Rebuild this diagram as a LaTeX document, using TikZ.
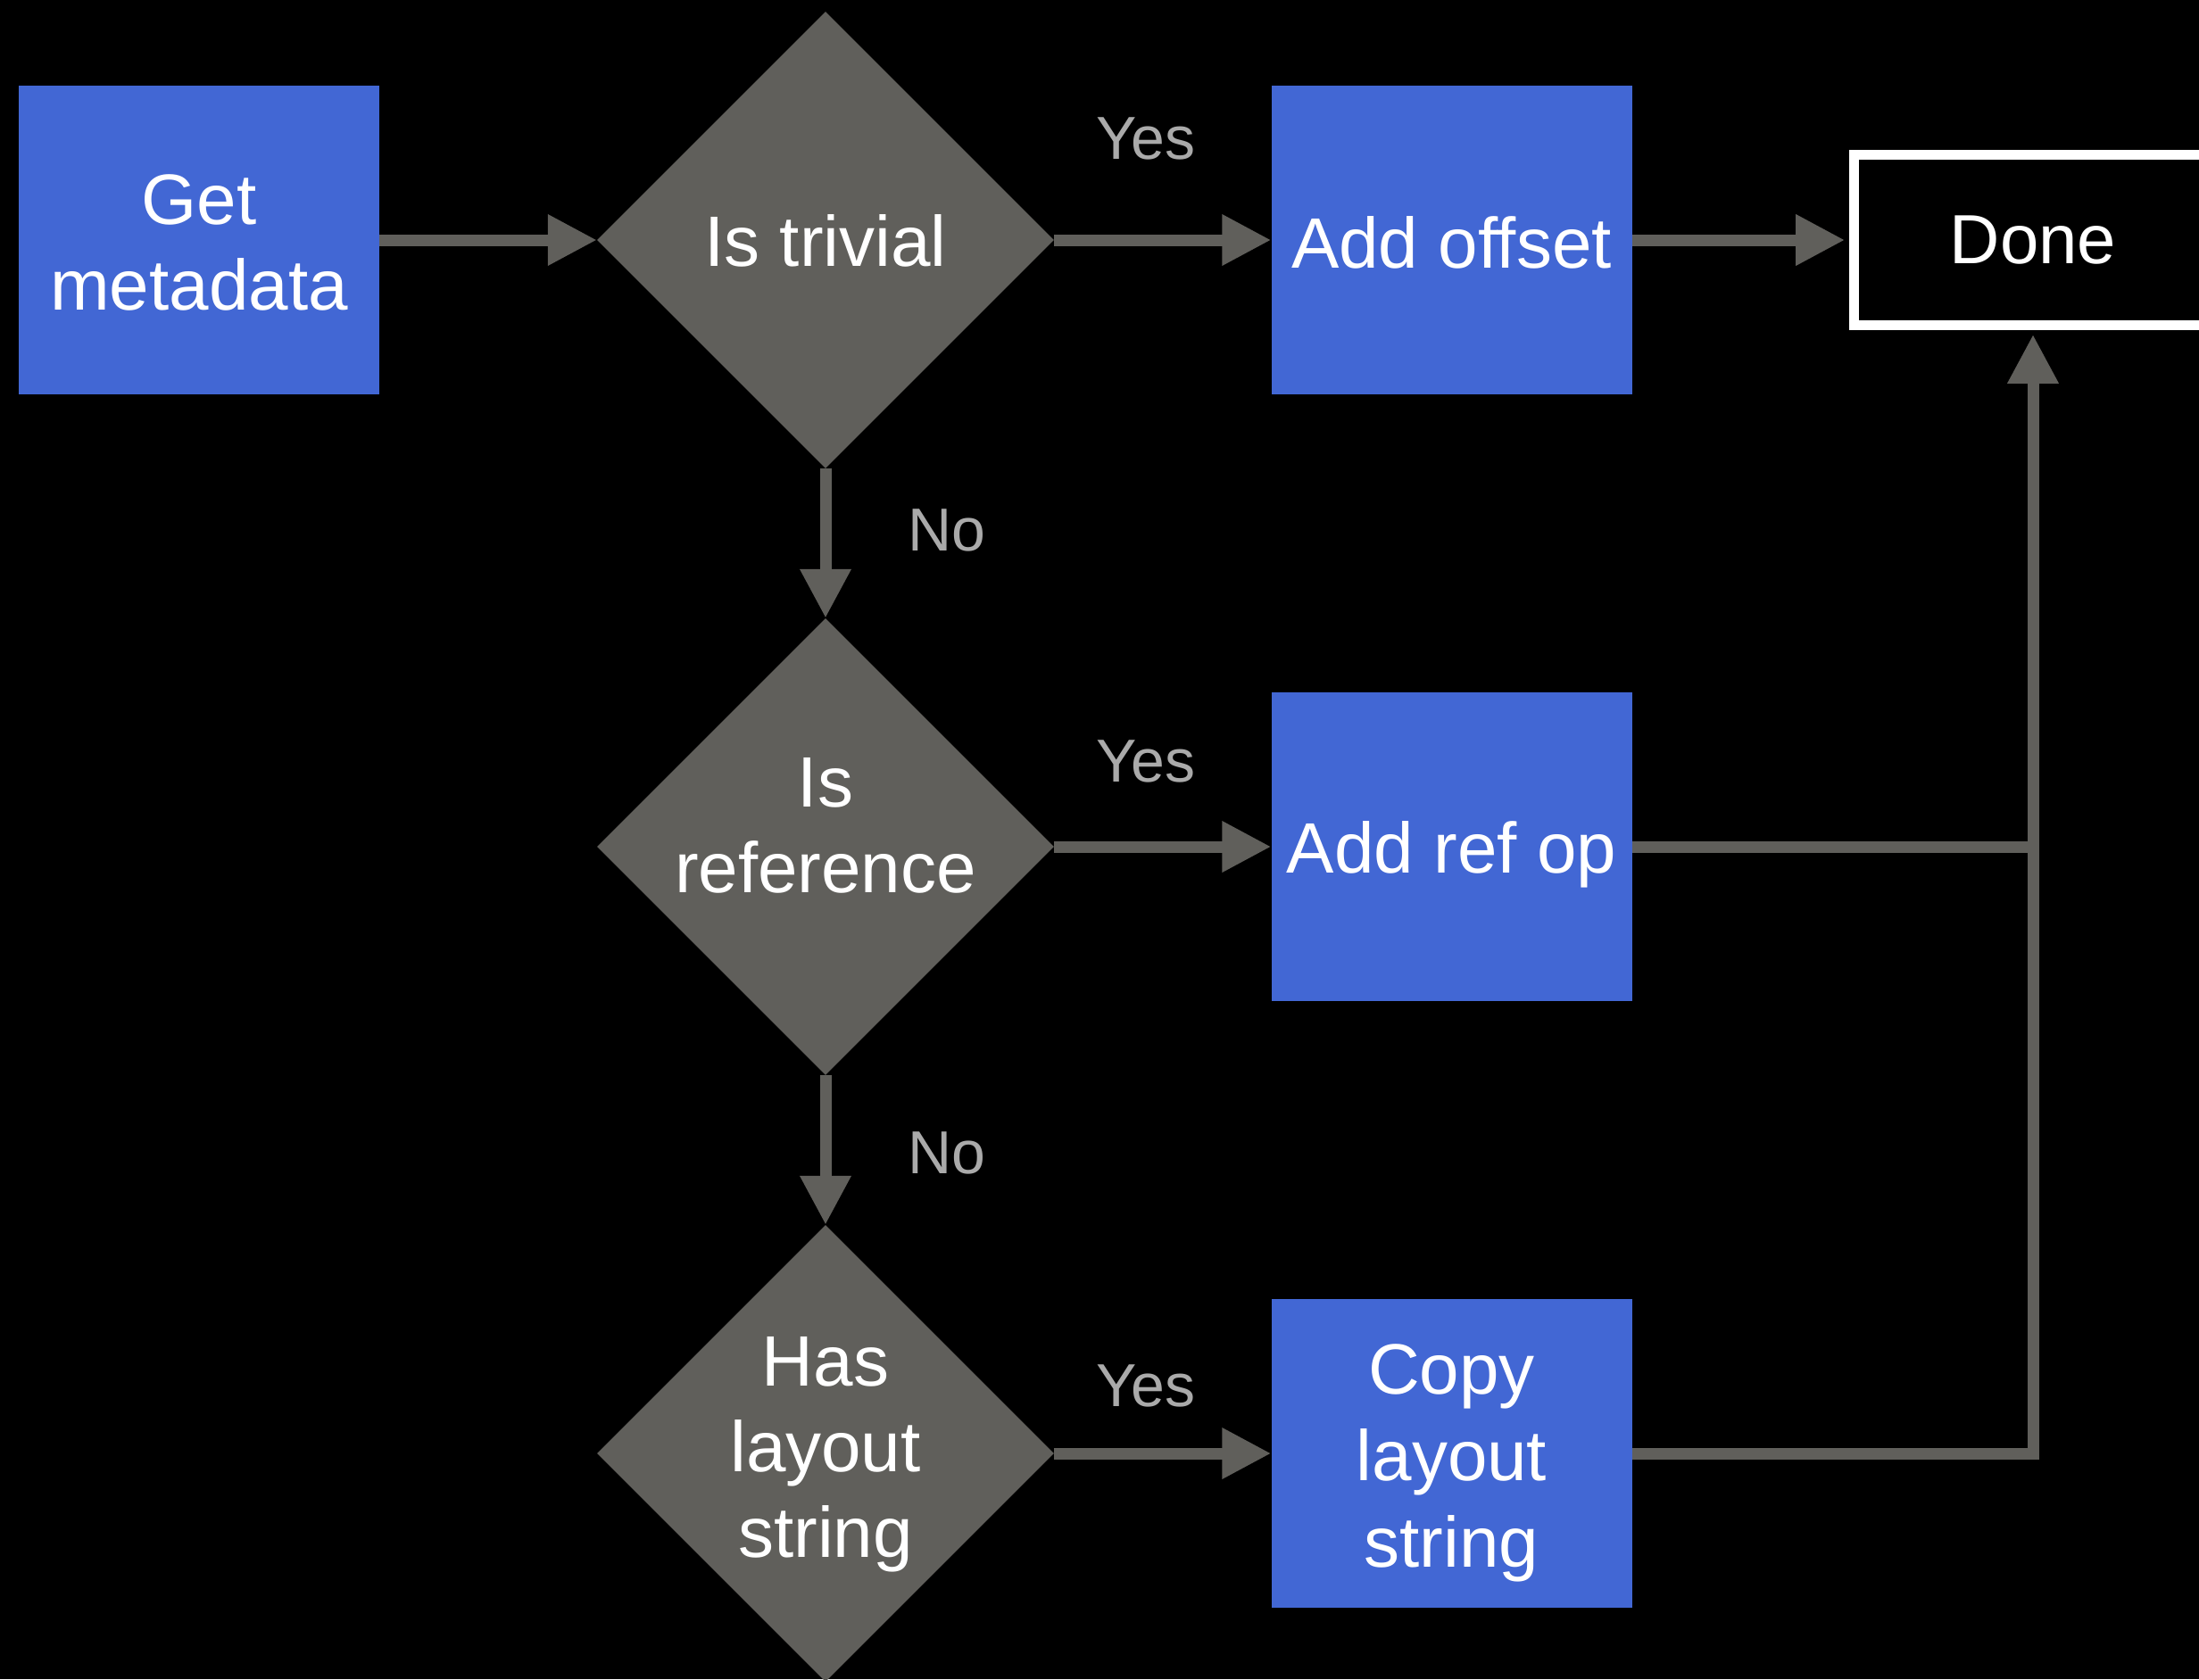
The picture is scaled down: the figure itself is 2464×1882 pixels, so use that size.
\documentclass[tikz,border=0pt]{standalone}
\usepackage{fontspec}
\setmainfont{Liberation Sans}
\usetikzlibrary{shapes.geometric,arrows.meta}
\definecolor{boxblue}{RGB}{66,103,212}
\definecolor{diagray}{RGB}{96,95,91}
\definecolor{lblgray}{RGB}{170,170,170}
\begin{document}
\begin{tikzpicture}[x=1pt,y=-1pt,
  bluebox/.style={rectangle, fill=boxblue, draw=none, minimum width=404pt, minimum height=346pt, inner sep=0pt},
  decision/.style={diamond, fill=diagray, draw=none, minimum width=512pt, minimum height=512pt, inner sep=0pt},
  btext/.style={align=center, text=white, inner sep=0pt, font=\fontsize{80}{96}\selectfont},
  lbl/.style={text=lblgray, font=\fontsize{68}{80}\selectfont, inner sep=0pt},
  conn/.style={draw=diagray, line width=13pt, -{Triangle[length=55pt,width=54pt]}},
  plainconn/.style={draw=diagray, line width=13pt},
  donebox/.style={rectangle, fill=black, draw=white, line width=10.7pt, minimum width=401pt, minimum height=191pt, inner sep=0pt, text=white, font=\fontsize{78}{92}\selectfont}
]
\useasboundingbox (0,0) rectangle (2464,1882);
\fill[black] (0,0) rectangle (2464,1882);
\clip (0,0) rectangle (2464,1882);

\node[bluebox] (gm) at (223,269) {};
\node[btext] (tgm) at (223,272) {Get\\metadata};
\node[decision] (d1) at (925,269) {};
\node[btext] (t1) at (925,270) {Is trivial};
\node[decision] (d2) at (925,949) {};
\node[btext] (t2) at (925,925) {Is\\reference};
\node[decision] (d3) at (925,1629) {};
\node[btext] (t3) at (925,1630) {Has\\layout\\string};
\node[bluebox] (ao) at (1626.5,269) {};
\node[btext] (tao) at (1626.5,272) {Add offset};
\node[bluebox] (ar) at (1626.5,949) {};
\node[btext] (tar) at (1626.5,958) {Add ref op};
\node[bluebox] (cl) at (1626.5,1629) {};
\node[btext, font=\fontsize{80}{97}\selectfont] (tcl) at (1626.5,1640) {Copy\\layout\\string};
\node[donebox] (done) at (2278,269) {Done};

\coordinate (j1) at (2278,949);
\coordinate (j2) at (2278,1629);

\draw[conn] (gm.east) -- (d1.west);
\draw[conn] (d1.east) -- (ao.west);
\draw[conn, shorten >=5pt] (ao.east) -- (done.west);
\draw[conn] (d1.south) -- (d2.north);
\draw[conn] (d2.east) -- (ar.west);
\draw[conn] (d2.south) -- (d3.north);
\draw[conn] (d3.east) -- (cl.west);
\draw[plainconn] (ar.east) -- (j1);
\draw[conn, shorten >=5pt] (cl.east) -- (j2) -- (done.south);

\node[lbl] (y1) at (1284,155) {Yes};
\node[lbl] (n1) at (1061,594) {No};
\node[lbl] (y2) at (1284,853) {Yes};
\node[lbl] (n2) at (1061,1292) {No};
\node[lbl] (y3) at (1284,1553) {Yes};
\end{tikzpicture}
\end{document}
